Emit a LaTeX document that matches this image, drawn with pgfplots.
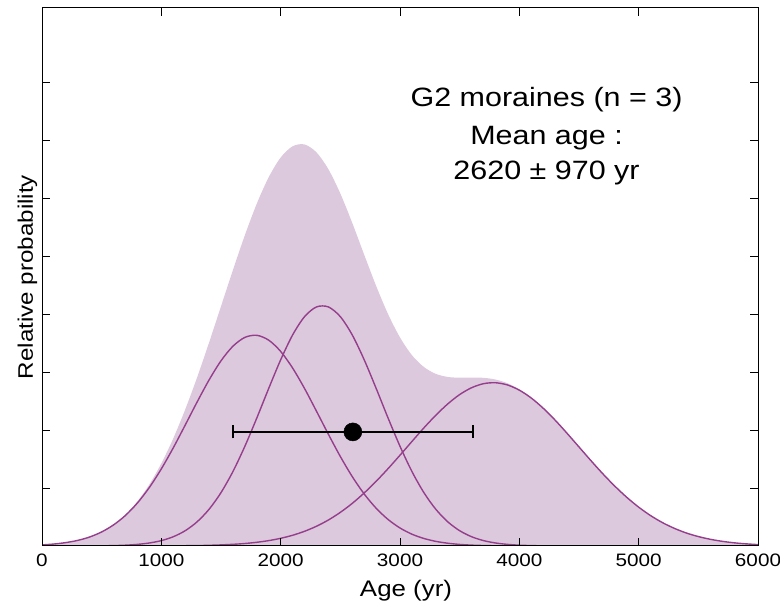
\documentclass[border=0pt]{standalone}
\usepackage{fontspec}
\setmainfont[FakeStretch=1.15]{Liberation Sans}
\usepackage{pgfplots}
\usepackage{pgfplotstable}
\pgfplotsset{compat=1.18}

\definecolor{shade}{RGB}{221,201,221}
\definecolor{curve}{RGB}{148,62,140}

% x, three individual age curves, and their sum
\pgfplotstableread{
x c1 c2 c3 s
0 0.019 0 0 0.019
100 0.034 0 0 0.034
200 0.059 0 0 0.059
300 0.097 0 0 0.097
400 0.156 0 0 0.156
500 0.243 0.003 0 0.246
600 0.365 0.007 0 0.372
700 0.529 0.014 0 0.543
800 0.744 0.028 0 0.772
900 1.012 0.052 0 1.064
1000 1.332 0.093 0.002 1.427
1100 1.695 0.160 0.003 1.858
1200 2.088 0.264 0.005 2.357
1300 2.487 0.418 0.007 2.912
1400 2.867 0.634 0.012 3.513
1500 3.198 0.922 0.019 4.139
1600 3.450 1.286 0.029 4.765
1700 3.602 1.722 0.043 5.367
1800 3.638 2.210 0.064 5.912
1900 3.554 2.722 0.093 6.369
2000 3.360 3.215 0.133 6.708
2100 3.073 3.644 0.185 6.902
2200 2.720 3.960 0.254 6.934
2300 2.328 4.128 0.341 6.797
2400 1.929 4.128 0.449 6.506
2500 1.545 3.960 0.581 6.086
2600 1.198 3.644 0.736 5.578
2700 0.898 3.215 0.916 5.029
2800 0.652 2.722 1.117 4.491
2900 0.458 2.210 1.336 4.004
3000 0.311 1.722 1.568 3.601
3100 0.204 1.286 1.805 3.295
3200 0.130 0.922 2.039 3.091
3300 0.080 0.634 2.258 2.972
3400 0.048 0.418 2.453 2.919
3500 0.027 0.264 2.615 2.906
3600 0.015 0.160 2.733 2.908
3700 0.008 0.093 2.803 2.904
3800 0.004 0.052 2.819 2.875
3900 0.002 0.028 2.781 2.811
4000 0.001 0.014 2.691 2.706
4100 0 0.007 2.555 2.562
4200 0 0.003 2.379 2.382
4300 0 0 2.173 2.173
4400 0 0 1.946 1.946
4500 0 0 1.710 1.710
4600 0 0 1.474 1.474
4700 0 0 1.246 1.246
4800 0 0 1.034 1.034
4900 0 0 0.841 0.841
5000 0 0 0.671 0.671
5100 0 0 0.525 0.525
5200 0 0 0.403 0.403
5300 0 0 0.304 0.304
5400 0 0 0.224 0.224
5500 0 0 0.163 0.163
5600 0 0 0.116 0.116
5700 0 0 0.081 0.081
5800 0 0 0.055 0.055
5900 0 0 0.037 0.037
6000 0 0 0.024 0.024
}\agedata

\begin{document}
\begin{tikzpicture}
\begin{axis}[
  scale only axis, width=716bp, height=538bp,
  xmin=0, xmax=6000, ymin=0, ymax=9.29,
  axis on top, axis line style={line width=1bp},
  tick align=inside, major tick length=8bp,
  tick style={line width=1bp, black},
  xtick={0,1000,...,6000}, ytick={1,...,8}, yticklabels={},
  scaled x ticks=false,
  /pgf/number format/assume math mode=true,
  /pgf/number format/set thousands separator={},
  xticklabel style={font=\fontsize{18bp}{20bp}\selectfont, yshift=-4bp},
  xlabel={Age (yr)}, ylabel={Relative probability},
  xlabel style={font=\fontsize{22.5bp}{26bp}\selectfont, at={(axis description cs:0.5,0)}, anchor=base, yshift=-51bp, xshift=6bp},
  ylabel style={font=\fontsize{21bp}{24bp}\selectfont, at={(axis description cs:-0.01257,0.5)}, anchor=base, rotate=0},
]
\addplot[fill=shade, draw=none, smooth] table[x=x, y=s] {\agedata} \closedcycle;
\addplot[curve, line width=1.4bp, smooth] table[x=x, y=c1] {\agedata};
\addplot[curve, line width=1.4bp, smooth] table[x=x, y=c2] {\agedata};
\addplot[curve, line width=1.4bp, smooth] table[x=x, y=c3] {\agedata};
\addplot[black, line width=1.5bp, mark=*, mark size=9bp, mark options={fill=black, line width=0.5bp},
  error bars/.cd, x dir=both, x explicit,
  error bar style={line width=1.5bp},
  error mark options={rotate=90, mark size=6.5bp, line width=1.5bp}]
  coordinates {(2605,1.97) +- (1005,0)};
\node[anchor=base, font=\fontsize{26.5bp}{30bp}\selectfont] at (axis cs:4228,7.587) {G2 moraines (n = 3)};
\node[anchor=base, font=\fontsize{26.5bp}{30bp}\selectfont] at (axis cs:4228,6.926) {Mean age :};
\node[anchor=base, font=\fontsize{26.5bp}{30bp}\selectfont] at (axis cs:4228,6.321) {2620 ± 970 yr};
\end{axis}
\pgfresetboundingbox
\path ([shift={(-42bp,-65bp)}]current axis.south west) rectangle ([shift={(22bp,8bp)}]current axis.north east);
\end{tikzpicture}
\end{document}
